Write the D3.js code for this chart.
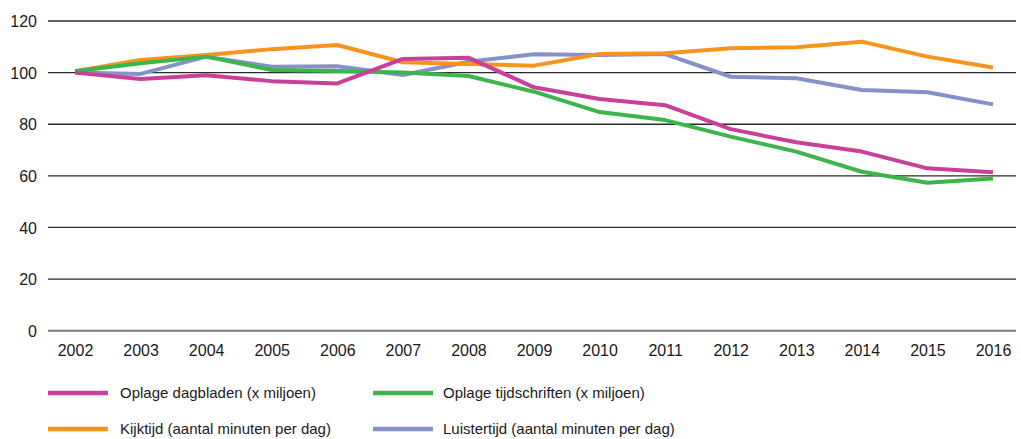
<!DOCTYPE html>
<html>
<head>
<meta charset="utf-8">
<script src="https://cdn.jsdelivr.net/npm/d3@7"></script>
<style>
  html, body { margin: 0; padding: 0; background: #fff; }
  svg text { font-family: "Liberation Sans", Arial, sans-serif; fill: #1a1a1a; }
</style>
</head>
<body>
<svg id="chart" width="1021" height="439"></svg>
<script>
const years = ["2002","2003","2004","2005","2006","2007","2008","2009","2010","2011","2012","2013","2014","2015","2016"];
const yTicks = [0, 20, 40, 60, 80, 100, 120];

const seriesNames = [
  "Oplage dagbladen (x miljoen)",
  "Oplage tijdschriften (x miljoen)",
  "Kijktijd (aantal minuten per dag)",
  "Luistertijd (aantal minuten per dag)"
];
const dagbladen    = [100, 97.5, 99, 96.7, 95.8, 105.3, 105.8, 94.3, 89.8, 87.4, 78.1, 73.0, 69.4, 62.9, 61.4];
const tijdschriften = [100.5, 103.6, 106.2, 101.0, 100.6, 100.0, 98.7, 92.6, 84.7, 81.6, 75.2, 69.4, 61.6, 57.3, 59.0];
const kijktijd     = [100.5, 104.9, 106.8, 109.1, 110.7, 104.0, 103.3, 102.7, 107.2, 107.5, 109.4, 109.8, 112.0, 106.2, 102.0];
const luistertijd  = [100, 99.5, 106.2, 102.3, 102.5, 99.1, 104.2, 107.1, 106.8, 107.2, 98.4, 97.8, 93.3, 92.4, 87.7];
const colors = ["#c8409a", "#3db54a", "#f7941d", "#8591c8"];

const seriesValues = [dagbladen, tijdschriften, kijktijd, luistertijd];
// draw order: back to front
const drawOrder = [3, 2, 1, 0];

const svg = d3.select("#chart");

const gridLeft = 48, gridRight = 1016;
const x = d3.scalePoint().domain(years).range([75, 993]);
const y = d3.scaleLinear().domain([0, 120]).range([330.7, 21]);

// gridlines
svg.append("g")
  .selectAll("line")
  .data(yTicks)
  .join("line")
  .attr("x1", gridLeft).attr("x2", gridRight)
  .attr("y1", d => y(d)).attr("y2", d => y(d))
  .attr("stroke", d => d === 0 ? "#777" : "#2b2b2b")
  .attr("stroke-width", d => d === 0 ? 2 : 1.3);

// y axis labels
const yAxis = d3.axisLeft(y).tickValues(yTicks).tickSize(0).tickPadding(0);
svg.append("g")
  .attr("transform", "translate(37,0)")
  .call(yAxis)
  .call(g => g.select(".domain").remove())
  .call(g => g.selectAll("text").attr("font-size", 16).attr("dy", "0.35em")
    .style("font-family", "'Liberation Sans', Arial, sans-serif").attr("fill", "#1a1a1a"));

// x axis labels
const xAxis = d3.axisBottom(x).tickSize(0).tickPadding(0);
svg.append("g")
  .attr("transform", "translate(0,345)")
  .call(xAxis)
  .call(g => g.select(".domain").remove())
  .call(g => g.selectAll("text").attr("font-size", 16).attr("dy", "0.71em")
    .style("font-family", "'Liberation Sans', Arial, sans-serif").attr("fill", "#1a1a1a"));

// lines
const line = d3.line().x((d, i) => x(years[i])).y(d => y(d));
svg.append("g")
  .selectAll("path")
  .data(drawOrder)
  .join("path")
  .attr("d", k => line(seriesValues[k]))
  .attr("fill", "none")
  .attr("stroke", k => colors[k])
  .attr("stroke-width", 4)
  .attr("stroke-linejoin", "round");

// legend
const legendPos = [
  {sx: 48, tx: 120, y: 393},
  {sx: 373, tx: 443, y: 393},
  {sx: 48, tx: 120, y: 429},
  {sx: 373, tx: 443, y: 429}
];
const lg = svg.append("g");
seriesNames.forEach((name, k) => {
  const p = legendPos[k];
  lg.append("line")
    .attr("x1", p.sx).attr("x2", p.sx + 60)
    .attr("y1", p.y).attr("y2", p.y)
    .attr("stroke", colors[k]).attr("stroke-width", 4.5);
  lg.append("text")
    .attr("x", p.tx).attr("y", p.y).attr("dy", "0.35em")
    .attr("font-size", 15)
    .text(name);
});
</script>
</body>
</html>
